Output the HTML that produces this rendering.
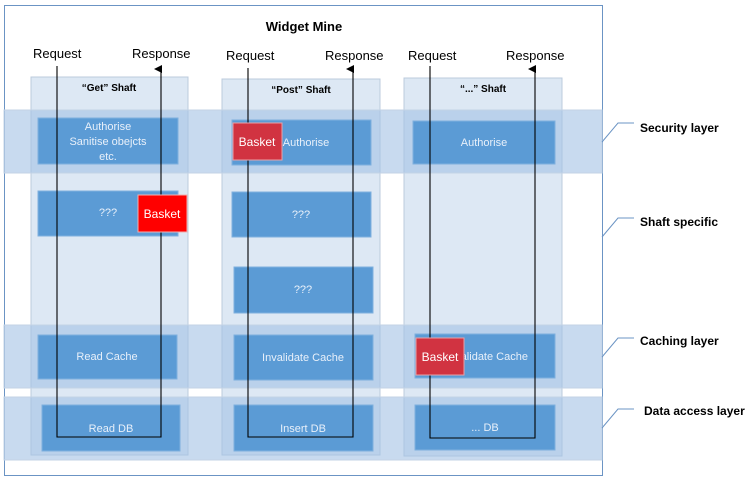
<!DOCTYPE html>
<html><head><style>body{margin:0;background:#fff}svg{display:block}</style></head><body>
<svg width="755" height="483" viewBox="0 0 755 483" xmlns="http://www.w3.org/2000/svg" font-family="Liberation Sans, sans-serif">
<defs><marker id="a" markerWidth="8" markerHeight="8" refX="4" refY="7" orient="auto" markerUnits="userSpaceOnUse"><path d="M0,8 L4,0 L8,8 Z" fill="#000"/></marker></defs>
<rect x="4.5" y="5.5" width="598" height="470" fill="#fff" stroke="#6b94c4"/>
<text x="304" y="31" font-size="13" font-weight="bold" text-anchor="middle">Widget Mine</text>
<g font-size="13">
<text x="33" y="58">Request</text><text x="132" y="58">Response</text>
<text x="226" y="60">Request</text><text x="325" y="60">Response</text>
<text x="408" y="60">Request</text><text x="506" y="60">Response</text>
</g>
<g fill="#dde8f4" stroke="#bccbdc">
<rect x="31" y="77" width="157" height="378"/>
<rect x="222" y="79" width="158" height="376"/>
<rect x="404" y="78" width="158" height="378"/>
</g>
<g font-size="10" font-weight="bold" text-anchor="middle">
<text x="109" y="91">“Get” Shaft</text><text x="301" y="93">“Post” Shaft</text><text x="483" y="92">“...” Shaft</text>
</g>
<g fill="#a4c2e4" fill-opacity="0.6" stroke="#c3d3e6">
<rect x="4" y="110" width="598" height="63"/>
<rect x="4" y="325" width="598" height="63"/>
<rect x="4" y="397" width="598" height="63"/>
</g>
<g fill="#5b9bd5" stroke="#7fb0de">
<rect x="38" y="118" width="140" height="46"/><rect x="38" y="191" width="140" height="45"/>
<rect x="38" y="335" width="139" height="44"/><rect x="42" y="405" width="138" height="46"/>
<rect x="232" y="120" width="139" height="45"/><rect x="232" y="192" width="139" height="45"/>
<rect x="234" y="267" width="139" height="46"/><rect x="234" y="335" width="139" height="45"/>
<rect x="234" y="405" width="139" height="46"/>
<rect x="413" y="121" width="142" height="43"/><rect x="415" y="334" width="140" height="44"/>
<rect x="415" y="405" width="140" height="45"/>
</g>
<g font-size="11" fill="#e8f0fa" text-anchor="middle">
<text x="108" y="130">Authorise</text><text x="108" y="145">Sanitise obejcts</text><text x="108" y="160">etc.</text>
<text x="108" y="216">???</text><text x="107" y="360">Read Cache</text><text x="111" y="432">Read DB</text>
<text x="306" y="146">Authorise</text><text x="301" y="218">???</text><text x="303" y="293">???</text>
<text x="303" y="361">Invalidate Cache</text><text x="303" y="432">Insert DB</text>
<text x="484" y="146">Authorise</text><text x="487" y="360">Invalidate Cache</text><text x="485" y="431">... DB</text>
</g>
<g fill="none" stroke="#000" stroke-width="1.1">
<path d="M57,66 V437 H161 V69" marker-end="url(#a)"/>
<path d="M248,68 V437 H353 V69" marker-end="url(#a)"/>
<path d="M430,66 V438 H535 V69" marker-end="url(#a)"/>
</g>
<rect x="138" y="195" width="49" height="37" fill="#ff0000" stroke="#f0b0b0"/>
<rect x="233" y="123" width="49" height="37" fill="#d13341" stroke="#e8a0a8"/>
<rect x="416" y="338" width="48" height="37" fill="#d13341" stroke="#e8a0a8"/>
<g font-size="12" fill="#fff" text-anchor="middle">
<text x="162" y="218">Basket</text><text x="257" y="146">Basket</text><text x="440" y="361">Basket</text>
</g>
<g fill="none" stroke="#6b94c4">
<path d="M602,142 L618,123 H634"/><path d="M602,237 L618,218 H634"/>
<path d="M602,357 L618,338 H634"/><path d="M602,428 L618,409 H634"/>
</g>
<g font-size="12" font-weight="bold">
<text x="640" y="132">Security layer</text><text x="640" y="226">Shaft specific</text>
<text x="640" y="345">Caching layer</text><text x="644" y="415">Data access layer</text>
</g>
</svg>
</body></html>
